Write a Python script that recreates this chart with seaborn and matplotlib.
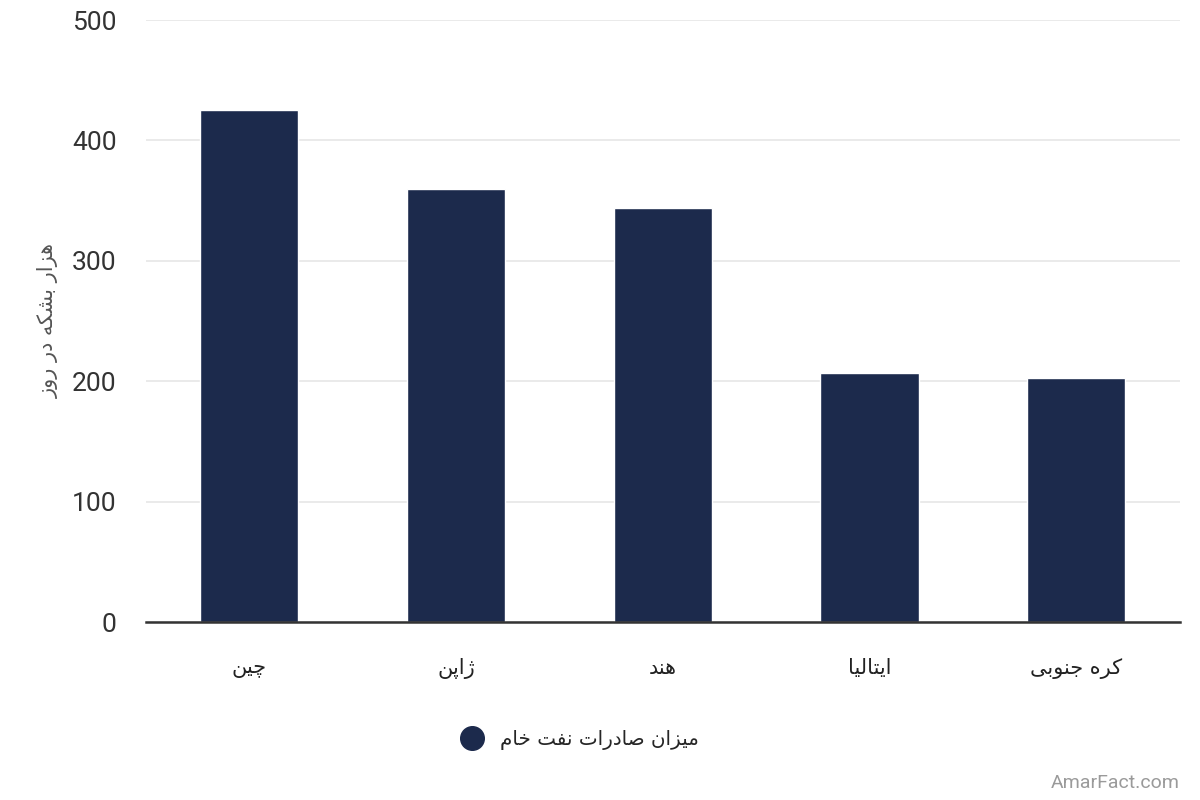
import seaborn as sns
import matplotlib.pyplot as plt
from matplotlib.lines import Line2D
import pandas as pd

countries = ['چین', 'ژاپن', 'هند', 'ایتالیا', 'کره جنوبی']
exports = [425, 360, 344, 207, 203]
series_name = 'میزان صادرات نفت خام'
y_label = 'هزار بشکه در روز'
y_ticks = [0, 100, 200, 300, 400, 500]

# matplotlib has no arabic shaping, so pick presentation forms by hand
# letter: (isolated, final, initial, medial); None -> only joins to the right
FORMS = {
    'ا': ('\uFE8D', '\uFE8E', None, None),
    'د': ('\uFEA9', '\uFEAA', None, None),
    'ر': ('\uFEAD', '\uFEAE', None, None),
    'ز': ('\uFEAF', '\uFEB0', None, None),
    'ژ': ('\uFB8A', '\uFB8B', None, None),
    'و': ('\uFEED', '\uFEEE', None, None),
    'ب': ('\uFE8F', '\uFE90', '\uFE91', '\uFE92'),
    'پ': ('\uFB56', '\uFB57', '\uFB58', '\uFB59'),
    'ت': ('\uFE95', '\uFE96', '\uFE97', '\uFE98'),
    'ج': ('\uFE9D', '\uFE9E', '\uFE9F', '\uFEA0'),
    'چ': ('\uFB7A', '\uFB7B', '\uFB7C', '\uFB7D'),
    'خ': ('\uFEA5', '\uFEA6', '\uFEA7', '\uFEA8'),
    'ش': ('\uFEB5', '\uFEB6', '\uFEB7', '\uFEB8'),
    'ص': ('\uFEB9', '\uFEBA', '\uFEBB', '\uFEBC'),
    'ف': ('\uFED1', '\uFED2', '\uFED3', '\uFED4'),
    'ک': ('\uFB8E', '\uFB8F', '\uFB90', '\uFB91'),
    'ل': ('\uFEDD', '\uFEDE', '\uFEDF', '\uFEE0'),
    'م': ('\uFEE1', '\uFEE2', '\uFEE3', '\uFEE4'),
    'ن': ('\uFEE5', '\uFEE6', '\uFEE7', '\uFEE8'),
    'ه': ('\uFEE9', '\uFEEA', '\uFEEB', '\uFEEC'),
    'ی': ('\uFBFC', '\uFBFD', '\uFBFE', '\uFBFF'),
}


def shape(text):
    out = []
    for i, ch in enumerate(text):
        if ch not in FORMS:
            out.append(ch)
            continue
        prev = text[i - 1] if i > 0 else ''
        nxt = text[i + 1] if i + 1 < len(text) else ''
        join_prev = prev in FORMS and FORMS[prev][2] is not None
        join_next = nxt in FORMS and FORMS[ch][2] is not None
        iso, fin, ini, med = FORMS[ch]
        if join_prev and join_next:
            out.append(med)
        elif join_prev:
            out.append(fin)
        elif join_next:
            out.append(ini)
        else:
            out.append(iso)
    return ''.join(out)[::-1]


bar_color = '#1c2a4c'

df = pd.DataFrame({'country': [shape(c) for c in countries], 'value': exports})

sns.set_style('white')
plt.rcParams['font.family'] = ['Roboto', 'DejaVu Sans']

fig = plt.figure(figsize=(12, 8), dpi=100)
ax = fig.add_axes([0.1217, 0.2225, 0.8613, 0.7525])

sns.barplot(data=df, x='country', y='value', color=bar_color, width=0.475,
            saturation=1, ax=ax)

ax.set_ylim(0, 500)
ax.set_xlim(-0.5, 4.5)
ax.set_yticks(y_ticks)
ax.set_yticklabels([str(t) for t in y_ticks], fontsize=19, color='#333333')
ax.tick_params(axis='y', length=0, pad=21)
ax.tick_params(axis='x', length=0, pad=26)
for lab in ax.get_xticklabels():
    lab.set_fontfamily(['DejaVu Sans'])
    lab.set_fontsize(15)
    lab.set_color('#222222')

ax.grid(axis='y', color='#e6e6e6', linewidth=1.2)
ax.set_axisbelow(True)
for s in ['top', 'right', 'left']:
    ax.spines[s].set_visible(False)
ax.spines['bottom'].set_color('#333333')
ax.spines['bottom'].set_linewidth(1.8)

ax.set_xlabel('')
ax.set_ylabel(shape(y_label), fontsize=15, color='#555555',
              fontfamily=['DejaVu Sans'])
ax.yaxis.set_label_coords(-0.084, 0.5)

handle = Line2D([], [], marker='o', linestyle='', markersize=17,
                markerfacecolor=bar_color, markeredgecolor=bar_color)
fig.legend([handle], [shape(series_name)], loc='center',
           bbox_to_anchor=(0.483, 0.075), frameon=False,
           prop={'family': ['DejaVu Sans'], 'size': 14.3},
           handletextpad=0.8, handlelength=1.2)

fig.text(0.983, 0.021, 'AmarFact.com', ha='right', va='center',
         fontsize=14, color='#9a9a9a')

fig.savefig('out.png', dpi=100)
